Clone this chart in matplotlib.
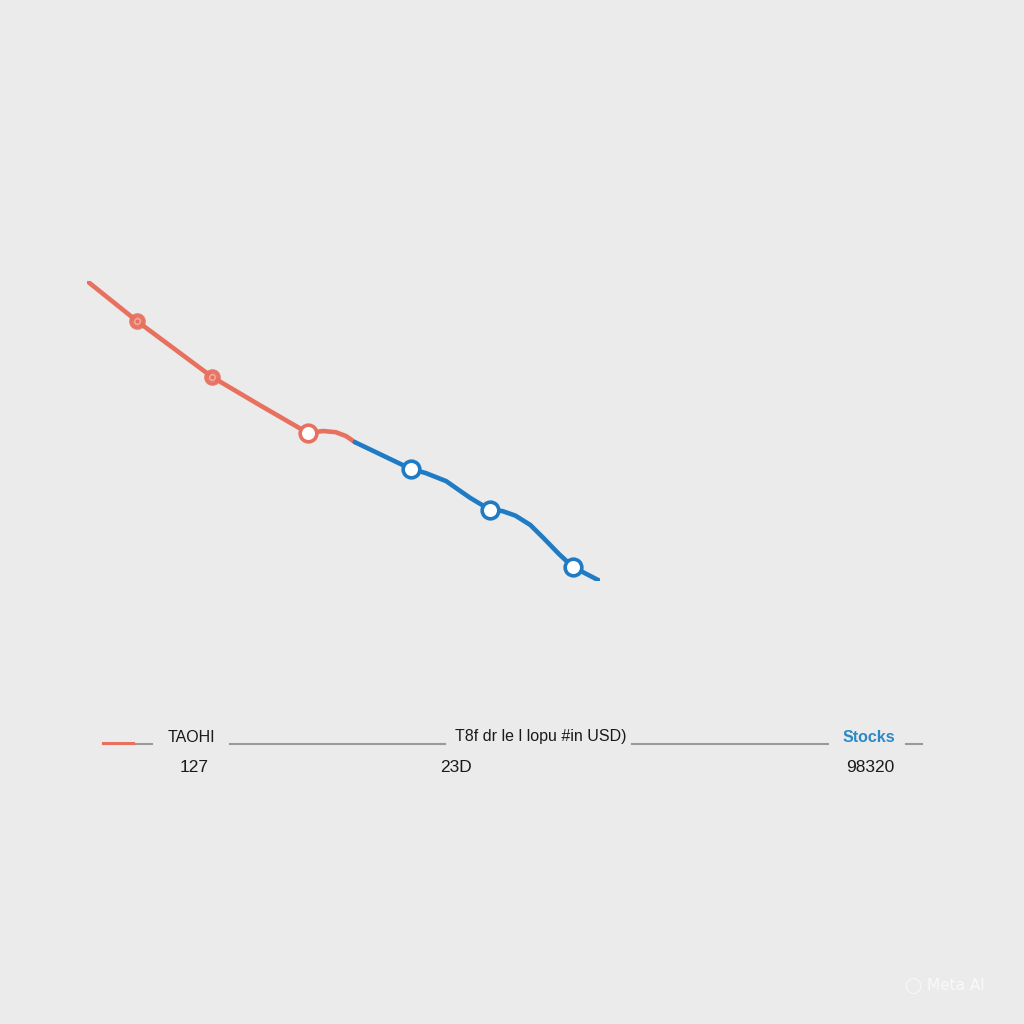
import numpy as np
import matplotlib.pyplot as plt
from matplotlib.lines import Line2D

# line path (x: time units 0-10, y: value 0-100)
red_x = [0, 0.97, 2.44, 3.4, 4.31, 4.6, 4.85, 5.05, 5.22]
red_y = [100, 86.7, 68, 58.3, 49.3, 50.0, 49.6, 48.3, 46.3]
blue_x = [5.22, 6.32, 6.6, 7.0, 7.47, 7.86, 8.1, 8.35, 8.64, 8.9, 9.2, 9.47, 10]
blue_y = [46.3, 37.3, 36.0, 33.3, 27.7, 23.7, 23.3, 21.8, 18.7, 14.3, 9.0, 4.7, 0]

# marker points
red_mx = [0.97, 2.44, 4.31]
red_my = [86.7, 68, 49.3]
blue_mx = [6.32, 7.86, 9.47]
blue_my = [37.3, 23.7, 4.7]

# bottom labels
labels = ["TAOHI", "T8f dr le l lopu #in USD)", "Stocks"]
values = ["127", "23D", "98320"]

red = "#e8705f"
blue = "#1f7bc4"
bg = "#ebebeb"

fig = plt.figure(figsize=(10.24, 10.24), dpi=100, facecolor=bg)
ax = fig.add_axes([87/1024, 1-581/1024, 513/1024, 300/1024])
ax.set_xlim(0, 10)
ax.set_ylim(0, 100)
ax.axis("off")

ax.plot(red_x, red_y, color=red, lw=3.3, solid_capstyle="round", solid_joinstyle="round", zorder=2)
ax.plot(blue_x, blue_y, color=blue, lw=3.3, solid_capstyle="round", solid_joinstyle="round", zorder=2)
ax.plot(red_mx[:2], red_my[:2], "o", ms=10, mfc=red, mec=red, mew=2, alpha=0.9, zorder=3)
ax.plot(red_mx[:2], red_my[:2], "o", ms=4, mfc="none", mec="#f3b0a5", mew=1, zorder=4)
ax.plot(red_mx[2:], red_my[2:], "o", ms=12, mfc="white", mec=red, mew=2.6, zorder=3)
ax.plot(blue_mx, blue_my, "o", ms=12, mfc="white", mec=blue, mew=2.6, zorder=3)

# legend strip at the bottom
def fline(x0, x1, y, c, lw=1.5):
    fig.add_artist(Line2D([x0/1024, x1/1024], [1-y/1024, 1-y/1024], color=c, lw=lw))

fline(103, 152, 744, "#9a9a9a")
fline(103, 133, 743, red, lw=2.2)
fline(230, 445, 744, "#9a9a9a")
fline(632, 828, 744, "#9a9a9a")
fline(906, 922, 744, "#9a9a9a")

lab_x = [191, 541, 869]
lab_c = ["#1a1a1a", "#1a1a1a", "#2a8ac8"]
for t, x, c in zip(labels, lab_x, lab_c):
    fig.text(x/1024, 1-737/1024, t, ha="center", va="center", fontsize=11.5,
             color=c, family="Liberation Sans", fontweight="bold" if t == "Stocks" else "normal")
val_x = [194, 456, 870]
for t, x in zip(values, val_x):
    fig.text(x/1024, 1-768/1024, t, ha="center", va="center", fontsize=12.5,
             color="#1a1a1a", family="Liberation Sans")

fig.text(945/1024, 1-985/1024, "◯ Meta AI", ha="center", va="center", fontsize=11,
         color="white", alpha=0.7)

fig.savefig("out.png", dpi=100, facecolor=bg)
